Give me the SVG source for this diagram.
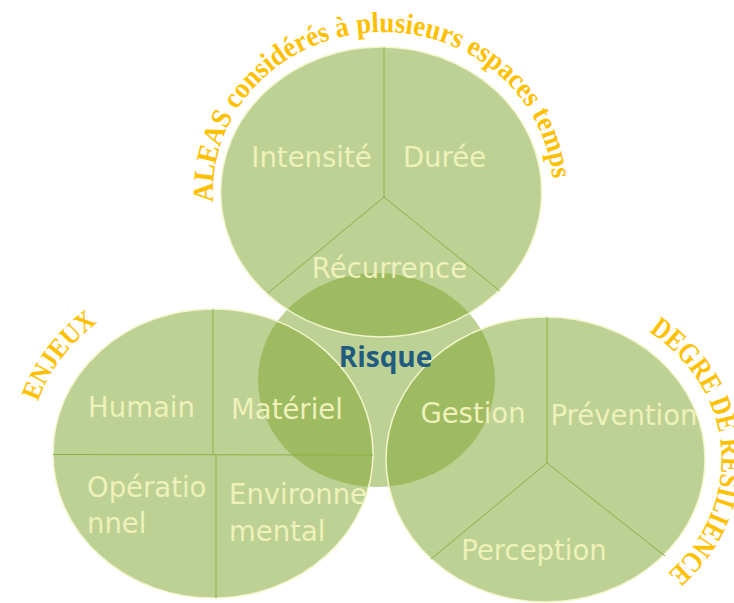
<svg xmlns="http://www.w3.org/2000/svg" width="734" height="603" viewBox="0 0 734 603">
  <style>
    .circ { fill: #83A834; fill-opacity: 0.53; stroke: #F3F6CC; stroke-width: 1.5; }
    .mid { fill: #83A834; fill-opacity: 0.53; stroke: none; }
    .div { stroke: #8CAE46; stroke-width: 1; fill: none; }
    .lbl { font-family: "DejaVu Sans", sans-serif; font-size: 27.5px; fill: #EEF1BA; }
    .arc { font-family: "Liberation Serif", "Times New Roman", serif; font-weight: bold; fill: #FFC000; }
    .risk { font-family: "Open Sans", sans-serif; font-weight: bold; font-size: 28px; fill: #1F5C80; }
  </style>
  <defs>
    <path id="pTop" d="M213.3,202 A170,160 0 0,1 552.7,182"/>
    <path id="pLeft" d="M38,401.6 A184,168 0 0,1 99.7,321.1"/>
    <path id="pRight" d="M649,331.7 A176,158 0 0,1 667.8,573.2"/>
  </defs>

  <g id="node-risque">
    <ellipse class="mid" cx="376.5" cy="380" rx="118.5" ry="107"/>
  </g>
  <g id="node-aleas">
    <ellipse class="circ" cx="381.2" cy="192" rx="160.5" ry="145"/>
  </g>
  <g id="node-enjeux">
    <ellipse class="circ" cx="213" cy="453.5" rx="160" ry="144.5"/>
  </g>
  <g id="node-resilience">
    <ellipse class="circ" cx="545.5" cy="459.5" rx="159.5" ry="142.5"/>
  </g>

  <g id="connectors">
    <path class="div" d="M384,47 L384,197 L268,293 M384,197 L500,291"/>
    <path class="div" d="M213,309 L213,454.5 M216,454.5 L216,598 M53,454.5 L373,455"/>
    <path class="div" d="M547,317 L547,463 L431,559 M547,463 L665,556"/>
  </g>

  <g id="labels-aleas">
    <text class="lbl" x="311.5" y="167" text-anchor="middle">Intensité</text>
    <text class="lbl" x="444.5" y="167" text-anchor="middle">Durée</text>
    <text class="lbl" x="389.5" y="278" text-anchor="middle">Récurrence</text>
  </g>
  <g id="labels-enjeux">
    <text class="lbl" x="141.5" y="417" text-anchor="middle">Humain</text>
    <text class="lbl" x="287" y="419" text-anchor="middle">Matériel</text>
    <text class="lbl" x="87" y="496.5">Opératio</text>
    <text class="lbl" x="87" y="533">nnel</text>
    <text class="lbl" x="229" y="504">Environne</text>
    <text class="lbl" x="229" y="541">mental</text>
  </g>
  <g id="labels-resilience">
    <text class="lbl" x="473" y="423" text-anchor="middle">Gestion</text>
    <text class="lbl" x="624" y="425" text-anchor="middle">Prévention</text>
    <text class="lbl" x="534" y="560" text-anchor="middle">Perception</text>
  </g>
  <g id="label-risque">
    <text class="risk" x="385.5" y="367" text-anchor="middle">Risque</text>
  </g>

  <g id="arc-titles">
    <text class="arc" font-size="29"><textPath href="#pTop" textLength="515" lengthAdjust="spacingAndGlyphs">ALEAS considérés à plusieurs espaces temps</textPath></text>
    <text class="arc" font-size="27"><textPath href="#pLeft" textLength="100" lengthAdjust="spacingAndGlyphs">ENJEUX</textPath></text>
    <text class="arc" font-size="29"><textPath href="#pRight" textLength="283" lengthAdjust="spacingAndGlyphs">DEGRE DE RESILIENCE</textPath></text>
  </g>
</svg>
